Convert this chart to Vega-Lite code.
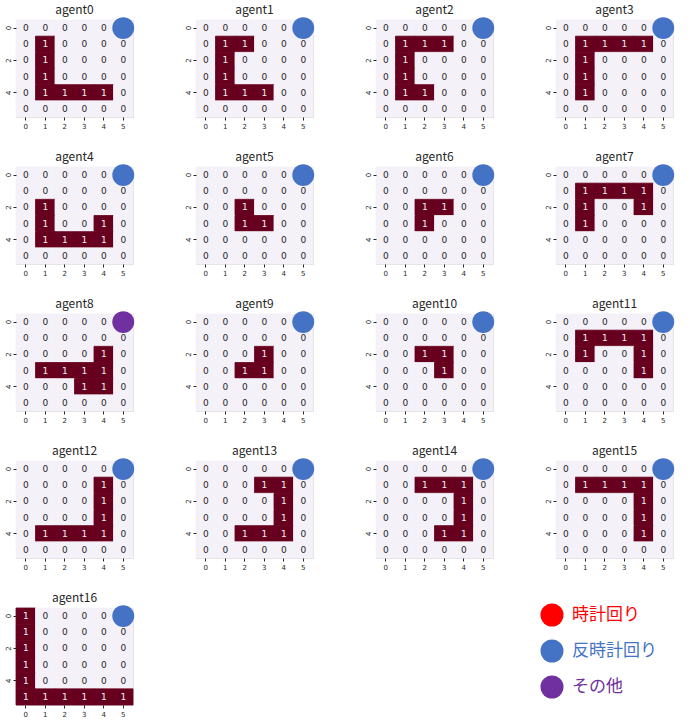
{
"$schema": "https://vega.github.io/schema/vega-lite/v6.json",
"background": "white",
"padding": {"left": 3, "top": 3, "right": 5, "bottom": 5},
"bounds": "flush",
"columns": 4,
"spacing": {"column": 63, "row": 50},
"resolve": {"axis": {"x": "independent", "y": "independent"}},
"datasets": {
"cells": [
{"a":0,"r":0,"c":0,"v":0},{"a":0,"r":0,"c":1,"v":0},{"a":0,"r":0,"c":2,"v":0},{"a":0,"r":0,"c":3,"v":0},{"a":0,"r":0,"c":4,"v":0},{"a":0,"r":0,"c":5,"v":0},
{"a":0,"r":1,"c":0,"v":0},{"a":0,"r":1,"c":1,"v":1},{"a":0,"r":1,"c":2,"v":0},{"a":0,"r":1,"c":3,"v":0},{"a":0,"r":1,"c":4,"v":0},{"a":0,"r":1,"c":5,"v":0},
{"a":0,"r":2,"c":0,"v":0},{"a":0,"r":2,"c":1,"v":1},{"a":0,"r":2,"c":2,"v":0},{"a":0,"r":2,"c":3,"v":0},{"a":0,"r":2,"c":4,"v":0},{"a":0,"r":2,"c":5,"v":0},
{"a":0,"r":3,"c":0,"v":0},{"a":0,"r":3,"c":1,"v":1},{"a":0,"r":3,"c":2,"v":0},{"a":0,"r":3,"c":3,"v":0},{"a":0,"r":3,"c":4,"v":0},{"a":0,"r":3,"c":5,"v":0},
{"a":0,"r":4,"c":0,"v":0},{"a":0,"r":4,"c":1,"v":1},{"a":0,"r":4,"c":2,"v":1},{"a":0,"r":4,"c":3,"v":1},{"a":0,"r":4,"c":4,"v":1},{"a":0,"r":4,"c":5,"v":0},
{"a":0,"r":5,"c":0,"v":0},{"a":0,"r":5,"c":1,"v":0},{"a":0,"r":5,"c":2,"v":0},{"a":0,"r":5,"c":3,"v":0},{"a":0,"r":5,"c":4,"v":0},{"a":0,"r":5,"c":5,"v":0},

{"a":1,"r":0,"c":0,"v":0},{"a":1,"r":0,"c":1,"v":0},{"a":1,"r":0,"c":2,"v":0},{"a":1,"r":0,"c":3,"v":0},{"a":1,"r":0,"c":4,"v":0},{"a":1,"r":0,"c":5,"v":0},
{"a":1,"r":1,"c":0,"v":0},{"a":1,"r":1,"c":1,"v":1},{"a":1,"r":1,"c":2,"v":1},{"a":1,"r":1,"c":3,"v":0},{"a":1,"r":1,"c":4,"v":0},{"a":1,"r":1,"c":5,"v":0},
{"a":1,"r":2,"c":0,"v":0},{"a":1,"r":2,"c":1,"v":1},{"a":1,"r":2,"c":2,"v":0},{"a":1,"r":2,"c":3,"v":0},{"a":1,"r":2,"c":4,"v":0},{"a":1,"r":2,"c":5,"v":0},
{"a":1,"r":3,"c":0,"v":0},{"a":1,"r":3,"c":1,"v":1},{"a":1,"r":3,"c":2,"v":0},{"a":1,"r":3,"c":3,"v":0},{"a":1,"r":3,"c":4,"v":0},{"a":1,"r":3,"c":5,"v":0},
{"a":1,"r":4,"c":0,"v":0},{"a":1,"r":4,"c":1,"v":1},{"a":1,"r":4,"c":2,"v":1},{"a":1,"r":4,"c":3,"v":1},{"a":1,"r":4,"c":4,"v":0},{"a":1,"r":4,"c":5,"v":0},
{"a":1,"r":5,"c":0,"v":0},{"a":1,"r":5,"c":1,"v":0},{"a":1,"r":5,"c":2,"v":0},{"a":1,"r":5,"c":3,"v":0},{"a":1,"r":5,"c":4,"v":0},{"a":1,"r":5,"c":5,"v":0},

{"a":2,"r":0,"c":0,"v":0},{"a":2,"r":0,"c":1,"v":0},{"a":2,"r":0,"c":2,"v":0},{"a":2,"r":0,"c":3,"v":0},{"a":2,"r":0,"c":4,"v":0},{"a":2,"r":0,"c":5,"v":0},
{"a":2,"r":1,"c":0,"v":0},{"a":2,"r":1,"c":1,"v":1},{"a":2,"r":1,"c":2,"v":1},{"a":2,"r":1,"c":3,"v":1},{"a":2,"r":1,"c":4,"v":0},{"a":2,"r":1,"c":5,"v":0},
{"a":2,"r":2,"c":0,"v":0},{"a":2,"r":2,"c":1,"v":1},{"a":2,"r":2,"c":2,"v":0},{"a":2,"r":2,"c":3,"v":0},{"a":2,"r":2,"c":4,"v":0},{"a":2,"r":2,"c":5,"v":0},
{"a":2,"r":3,"c":0,"v":0},{"a":2,"r":3,"c":1,"v":1},{"a":2,"r":3,"c":2,"v":0},{"a":2,"r":3,"c":3,"v":0},{"a":2,"r":3,"c":4,"v":0},{"a":2,"r":3,"c":5,"v":0},
{"a":2,"r":4,"c":0,"v":0},{"a":2,"r":4,"c":1,"v":1},{"a":2,"r":4,"c":2,"v":1},{"a":2,"r":4,"c":3,"v":0},{"a":2,"r":4,"c":4,"v":0},{"a":2,"r":4,"c":5,"v":0},
{"a":2,"r":5,"c":0,"v":0},{"a":2,"r":5,"c":1,"v":0},{"a":2,"r":5,"c":2,"v":0},{"a":2,"r":5,"c":3,"v":0},{"a":2,"r":5,"c":4,"v":0},{"a":2,"r":5,"c":5,"v":0},

{"a":3,"r":0,"c":0,"v":0},{"a":3,"r":0,"c":1,"v":0},{"a":3,"r":0,"c":2,"v":0},{"a":3,"r":0,"c":3,"v":0},{"a":3,"r":0,"c":4,"v":0},{"a":3,"r":0,"c":5,"v":0},
{"a":3,"r":1,"c":0,"v":0},{"a":3,"r":1,"c":1,"v":1},{"a":3,"r":1,"c":2,"v":1},{"a":3,"r":1,"c":3,"v":1},{"a":3,"r":1,"c":4,"v":1},{"a":3,"r":1,"c":5,"v":0},
{"a":3,"r":2,"c":0,"v":0},{"a":3,"r":2,"c":1,"v":1},{"a":3,"r":2,"c":2,"v":0},{"a":3,"r":2,"c":3,"v":0},{"a":3,"r":2,"c":4,"v":0},{"a":3,"r":2,"c":5,"v":0},
{"a":3,"r":3,"c":0,"v":0},{"a":3,"r":3,"c":1,"v":1},{"a":3,"r":3,"c":2,"v":0},{"a":3,"r":3,"c":3,"v":0},{"a":3,"r":3,"c":4,"v":0},{"a":3,"r":3,"c":5,"v":0},
{"a":3,"r":4,"c":0,"v":0},{"a":3,"r":4,"c":1,"v":1},{"a":3,"r":4,"c":2,"v":0},{"a":3,"r":4,"c":3,"v":0},{"a":3,"r":4,"c":4,"v":0},{"a":3,"r":4,"c":5,"v":0},
{"a":3,"r":5,"c":0,"v":0},{"a":3,"r":5,"c":1,"v":0},{"a":3,"r":5,"c":2,"v":0},{"a":3,"r":5,"c":3,"v":0},{"a":3,"r":5,"c":4,"v":0},{"a":3,"r":5,"c":5,"v":0},

{"a":4,"r":0,"c":0,"v":0},{"a":4,"r":0,"c":1,"v":0},{"a":4,"r":0,"c":2,"v":0},{"a":4,"r":0,"c":3,"v":0},{"a":4,"r":0,"c":4,"v":0},{"a":4,"r":0,"c":5,"v":0},
{"a":4,"r":1,"c":0,"v":0},{"a":4,"r":1,"c":1,"v":0},{"a":4,"r":1,"c":2,"v":0},{"a":4,"r":1,"c":3,"v":0},{"a":4,"r":1,"c":4,"v":0},{"a":4,"r":1,"c":5,"v":0},
{"a":4,"r":2,"c":0,"v":0},{"a":4,"r":2,"c":1,"v":1},{"a":4,"r":2,"c":2,"v":0},{"a":4,"r":2,"c":3,"v":0},{"a":4,"r":2,"c":4,"v":0},{"a":4,"r":2,"c":5,"v":0},
{"a":4,"r":3,"c":0,"v":0},{"a":4,"r":3,"c":1,"v":1},{"a":4,"r":3,"c":2,"v":0},{"a":4,"r":3,"c":3,"v":0},{"a":4,"r":3,"c":4,"v":1},{"a":4,"r":3,"c":5,"v":0},
{"a":4,"r":4,"c":0,"v":0},{"a":4,"r":4,"c":1,"v":1},{"a":4,"r":4,"c":2,"v":1},{"a":4,"r":4,"c":3,"v":1},{"a":4,"r":4,"c":4,"v":1},{"a":4,"r":4,"c":5,"v":0},
{"a":4,"r":5,"c":0,"v":0},{"a":4,"r":5,"c":1,"v":0},{"a":4,"r":5,"c":2,"v":0},{"a":4,"r":5,"c":3,"v":0},{"a":4,"r":5,"c":4,"v":0},{"a":4,"r":5,"c":5,"v":0},

{"a":5,"r":0,"c":0,"v":0},{"a":5,"r":0,"c":1,"v":0},{"a":5,"r":0,"c":2,"v":0},{"a":5,"r":0,"c":3,"v":0},{"a":5,"r":0,"c":4,"v":0},{"a":5,"r":0,"c":5,"v":0},
{"a":5,"r":1,"c":0,"v":0},{"a":5,"r":1,"c":1,"v":0},{"a":5,"r":1,"c":2,"v":0},{"a":5,"r":1,"c":3,"v":0},{"a":5,"r":1,"c":4,"v":0},{"a":5,"r":1,"c":5,"v":0},
{"a":5,"r":2,"c":0,"v":0},{"a":5,"r":2,"c":1,"v":0},{"a":5,"r":2,"c":2,"v":1},{"a":5,"r":2,"c":3,"v":0},{"a":5,"r":2,"c":4,"v":0},{"a":5,"r":2,"c":5,"v":0},
{"a":5,"r":3,"c":0,"v":0},{"a":5,"r":3,"c":1,"v":0},{"a":5,"r":3,"c":2,"v":1},{"a":5,"r":3,"c":3,"v":1},{"a":5,"r":3,"c":4,"v":0},{"a":5,"r":3,"c":5,"v":0},
{"a":5,"r":4,"c":0,"v":0},{"a":5,"r":4,"c":1,"v":0},{"a":5,"r":4,"c":2,"v":0},{"a":5,"r":4,"c":3,"v":0},{"a":5,"r":4,"c":4,"v":0},{"a":5,"r":4,"c":5,"v":0},
{"a":5,"r":5,"c":0,"v":0},{"a":5,"r":5,"c":1,"v":0},{"a":5,"r":5,"c":2,"v":0},{"a":5,"r":5,"c":3,"v":0},{"a":5,"r":5,"c":4,"v":0},{"a":5,"r":5,"c":5,"v":0},

{"a":6,"r":0,"c":0,"v":0},{"a":6,"r":0,"c":1,"v":0},{"a":6,"r":0,"c":2,"v":0},{"a":6,"r":0,"c":3,"v":0},{"a":6,"r":0,"c":4,"v":0},{"a":6,"r":0,"c":5,"v":0},
{"a":6,"r":1,"c":0,"v":0},{"a":6,"r":1,"c":1,"v":0},{"a":6,"r":1,"c":2,"v":0},{"a":6,"r":1,"c":3,"v":0},{"a":6,"r":1,"c":4,"v":0},{"a":6,"r":1,"c":5,"v":0},
{"a":6,"r":2,"c":0,"v":0},{"a":6,"r":2,"c":1,"v":0},{"a":6,"r":2,"c":2,"v":1},{"a":6,"r":2,"c":3,"v":1},{"a":6,"r":2,"c":4,"v":0},{"a":6,"r":2,"c":5,"v":0},
{"a":6,"r":3,"c":0,"v":0},{"a":6,"r":3,"c":1,"v":0},{"a":6,"r":3,"c":2,"v":1},{"a":6,"r":3,"c":3,"v":0},{"a":6,"r":3,"c":4,"v":0},{"a":6,"r":3,"c":5,"v":0},
{"a":6,"r":4,"c":0,"v":0},{"a":6,"r":4,"c":1,"v":0},{"a":6,"r":4,"c":2,"v":0},{"a":6,"r":4,"c":3,"v":0},{"a":6,"r":4,"c":4,"v":0},{"a":6,"r":4,"c":5,"v":0},
{"a":6,"r":5,"c":0,"v":0},{"a":6,"r":5,"c":1,"v":0},{"a":6,"r":5,"c":2,"v":0},{"a":6,"r":5,"c":3,"v":0},{"a":6,"r":5,"c":4,"v":0},{"a":6,"r":5,"c":5,"v":0},

{"a":7,"r":0,"c":0,"v":0},{"a":7,"r":0,"c":1,"v":0},{"a":7,"r":0,"c":2,"v":0},{"a":7,"r":0,"c":3,"v":0},{"a":7,"r":0,"c":4,"v":0},{"a":7,"r":0,"c":5,"v":0},
{"a":7,"r":1,"c":0,"v":0},{"a":7,"r":1,"c":1,"v":1},{"a":7,"r":1,"c":2,"v":1},{"a":7,"r":1,"c":3,"v":1},{"a":7,"r":1,"c":4,"v":1},{"a":7,"r":1,"c":5,"v":0},
{"a":7,"r":2,"c":0,"v":0},{"a":7,"r":2,"c":1,"v":1},{"a":7,"r":2,"c":2,"v":0},{"a":7,"r":2,"c":3,"v":0},{"a":7,"r":2,"c":4,"v":1},{"a":7,"r":2,"c":5,"v":0},
{"a":7,"r":3,"c":0,"v":0},{"a":7,"r":3,"c":1,"v":1},{"a":7,"r":3,"c":2,"v":0},{"a":7,"r":3,"c":3,"v":0},{"a":7,"r":3,"c":4,"v":0},{"a":7,"r":3,"c":5,"v":0},
{"a":7,"r":4,"c":0,"v":0},{"a":7,"r":4,"c":1,"v":0},{"a":7,"r":4,"c":2,"v":0},{"a":7,"r":4,"c":3,"v":0},{"a":7,"r":4,"c":4,"v":0},{"a":7,"r":4,"c":5,"v":0},
{"a":7,"r":5,"c":0,"v":0},{"a":7,"r":5,"c":1,"v":0},{"a":7,"r":5,"c":2,"v":0},{"a":7,"r":5,"c":3,"v":0},{"a":7,"r":5,"c":4,"v":0},{"a":7,"r":5,"c":5,"v":0},

{"a":8,"r":0,"c":0,"v":0},{"a":8,"r":0,"c":1,"v":0},{"a":8,"r":0,"c":2,"v":0},{"a":8,"r":0,"c":3,"v":0},{"a":8,"r":0,"c":4,"v":0},{"a":8,"r":0,"c":5,"v":0},
{"a":8,"r":1,"c":0,"v":0},{"a":8,"r":1,"c":1,"v":0},{"a":8,"r":1,"c":2,"v":0},{"a":8,"r":1,"c":3,"v":0},{"a":8,"r":1,"c":4,"v":0},{"a":8,"r":1,"c":5,"v":0},
{"a":8,"r":2,"c":0,"v":0},{"a":8,"r":2,"c":1,"v":0},{"a":8,"r":2,"c":2,"v":0},{"a":8,"r":2,"c":3,"v":0},{"a":8,"r":2,"c":4,"v":1},{"a":8,"r":2,"c":5,"v":0},
{"a":8,"r":3,"c":0,"v":0},{"a":8,"r":3,"c":1,"v":1},{"a":8,"r":3,"c":2,"v":1},{"a":8,"r":3,"c":3,"v":1},{"a":8,"r":3,"c":4,"v":1},{"a":8,"r":3,"c":5,"v":0},
{"a":8,"r":4,"c":0,"v":0},{"a":8,"r":4,"c":1,"v":0},{"a":8,"r":4,"c":2,"v":0},{"a":8,"r":4,"c":3,"v":1},{"a":8,"r":4,"c":4,"v":1},{"a":8,"r":4,"c":5,"v":0},
{"a":8,"r":5,"c":0,"v":0},{"a":8,"r":5,"c":1,"v":0},{"a":8,"r":5,"c":2,"v":0},{"a":8,"r":5,"c":3,"v":0},{"a":8,"r":5,"c":4,"v":0},{"a":8,"r":5,"c":5,"v":0},

{"a":9,"r":0,"c":0,"v":0},{"a":9,"r":0,"c":1,"v":0},{"a":9,"r":0,"c":2,"v":0},{"a":9,"r":0,"c":3,"v":0},{"a":9,"r":0,"c":4,"v":0},{"a":9,"r":0,"c":5,"v":0},
{"a":9,"r":1,"c":0,"v":0},{"a":9,"r":1,"c":1,"v":0},{"a":9,"r":1,"c":2,"v":0},{"a":9,"r":1,"c":3,"v":0},{"a":9,"r":1,"c":4,"v":0},{"a":9,"r":1,"c":5,"v":0},
{"a":9,"r":2,"c":0,"v":0},{"a":9,"r":2,"c":1,"v":0},{"a":9,"r":2,"c":2,"v":0},{"a":9,"r":2,"c":3,"v":1},{"a":9,"r":2,"c":4,"v":0},{"a":9,"r":2,"c":5,"v":0},
{"a":9,"r":3,"c":0,"v":0},{"a":9,"r":3,"c":1,"v":0},{"a":9,"r":3,"c":2,"v":1},{"a":9,"r":3,"c":3,"v":1},{"a":9,"r":3,"c":4,"v":0},{"a":9,"r":3,"c":5,"v":0},
{"a":9,"r":4,"c":0,"v":0},{"a":9,"r":4,"c":1,"v":0},{"a":9,"r":4,"c":2,"v":0},{"a":9,"r":4,"c":3,"v":0},{"a":9,"r":4,"c":4,"v":0},{"a":9,"r":4,"c":5,"v":0},
{"a":9,"r":5,"c":0,"v":0},{"a":9,"r":5,"c":1,"v":0},{"a":9,"r":5,"c":2,"v":0},{"a":9,"r":5,"c":3,"v":0},{"a":9,"r":5,"c":4,"v":0},{"a":9,"r":5,"c":5,"v":0},

{"a":10,"r":0,"c":0,"v":0},{"a":10,"r":0,"c":1,"v":0},{"a":10,"r":0,"c":2,"v":0},{"a":10,"r":0,"c":3,"v":0},{"a":10,"r":0,"c":4,"v":0},{"a":10,"r":0,"c":5,"v":0},
{"a":10,"r":1,"c":0,"v":0},{"a":10,"r":1,"c":1,"v":0},{"a":10,"r":1,"c":2,"v":0},{"a":10,"r":1,"c":3,"v":0},{"a":10,"r":1,"c":4,"v":0},{"a":10,"r":1,"c":5,"v":0},
{"a":10,"r":2,"c":0,"v":0},{"a":10,"r":2,"c":1,"v":0},{"a":10,"r":2,"c":2,"v":1},{"a":10,"r":2,"c":3,"v":1},{"a":10,"r":2,"c":4,"v":0},{"a":10,"r":2,"c":5,"v":0},
{"a":10,"r":3,"c":0,"v":0},{"a":10,"r":3,"c":1,"v":0},{"a":10,"r":3,"c":2,"v":0},{"a":10,"r":3,"c":3,"v":1},{"a":10,"r":3,"c":4,"v":0},{"a":10,"r":3,"c":5,"v":0},
{"a":10,"r":4,"c":0,"v":0},{"a":10,"r":4,"c":1,"v":0},{"a":10,"r":4,"c":2,"v":0},{"a":10,"r":4,"c":3,"v":0},{"a":10,"r":4,"c":4,"v":0},{"a":10,"r":4,"c":5,"v":0},
{"a":10,"r":5,"c":0,"v":0},{"a":10,"r":5,"c":1,"v":0},{"a":10,"r":5,"c":2,"v":0},{"a":10,"r":5,"c":3,"v":0},{"a":10,"r":5,"c":4,"v":0},{"a":10,"r":5,"c":5,"v":0},

{"a":11,"r":0,"c":0,"v":0},{"a":11,"r":0,"c":1,"v":0},{"a":11,"r":0,"c":2,"v":0},{"a":11,"r":0,"c":3,"v":0},{"a":11,"r":0,"c":4,"v":0},{"a":11,"r":0,"c":5,"v":0},
{"a":11,"r":1,"c":0,"v":0},{"a":11,"r":1,"c":1,"v":1},{"a":11,"r":1,"c":2,"v":1},{"a":11,"r":1,"c":3,"v":1},{"a":11,"r":1,"c":4,"v":1},{"a":11,"r":1,"c":5,"v":0},
{"a":11,"r":2,"c":0,"v":0},{"a":11,"r":2,"c":1,"v":1},{"a":11,"r":2,"c":2,"v":0},{"a":11,"r":2,"c":3,"v":0},{"a":11,"r":2,"c":4,"v":1},{"a":11,"r":2,"c":5,"v":0},
{"a":11,"r":3,"c":0,"v":0},{"a":11,"r":3,"c":1,"v":0},{"a":11,"r":3,"c":2,"v":0},{"a":11,"r":3,"c":3,"v":0},{"a":11,"r":3,"c":4,"v":1},{"a":11,"r":3,"c":5,"v":0},
{"a":11,"r":4,"c":0,"v":0},{"a":11,"r":4,"c":1,"v":0},{"a":11,"r":4,"c":2,"v":0},{"a":11,"r":4,"c":3,"v":0},{"a":11,"r":4,"c":4,"v":0},{"a":11,"r":4,"c":5,"v":0},
{"a":11,"r":5,"c":0,"v":0},{"a":11,"r":5,"c":1,"v":0},{"a":11,"r":5,"c":2,"v":0},{"a":11,"r":5,"c":3,"v":0},{"a":11,"r":5,"c":4,"v":0},{"a":11,"r":5,"c":5,"v":0},

{"a":12,"r":0,"c":0,"v":0},{"a":12,"r":0,"c":1,"v":0},{"a":12,"r":0,"c":2,"v":0},{"a":12,"r":0,"c":3,"v":0},{"a":12,"r":0,"c":4,"v":0},{"a":12,"r":0,"c":5,"v":0},
{"a":12,"r":1,"c":0,"v":0},{"a":12,"r":1,"c":1,"v":0},{"a":12,"r":1,"c":2,"v":0},{"a":12,"r":1,"c":3,"v":0},{"a":12,"r":1,"c":4,"v":1},{"a":12,"r":1,"c":5,"v":0},
{"a":12,"r":2,"c":0,"v":0},{"a":12,"r":2,"c":1,"v":0},{"a":12,"r":2,"c":2,"v":0},{"a":12,"r":2,"c":3,"v":0},{"a":12,"r":2,"c":4,"v":1},{"a":12,"r":2,"c":5,"v":0},
{"a":12,"r":3,"c":0,"v":0},{"a":12,"r":3,"c":1,"v":0},{"a":12,"r":3,"c":2,"v":0},{"a":12,"r":3,"c":3,"v":0},{"a":12,"r":3,"c":4,"v":1},{"a":12,"r":3,"c":5,"v":0},
{"a":12,"r":4,"c":0,"v":0},{"a":12,"r":4,"c":1,"v":1},{"a":12,"r":4,"c":2,"v":1},{"a":12,"r":4,"c":3,"v":1},{"a":12,"r":4,"c":4,"v":1},{"a":12,"r":4,"c":5,"v":0},
{"a":12,"r":5,"c":0,"v":0},{"a":12,"r":5,"c":1,"v":0},{"a":12,"r":5,"c":2,"v":0},{"a":12,"r":5,"c":3,"v":0},{"a":12,"r":5,"c":4,"v":0},{"a":12,"r":5,"c":5,"v":0},

{"a":13,"r":0,"c":0,"v":0},{"a":13,"r":0,"c":1,"v":0},{"a":13,"r":0,"c":2,"v":0},{"a":13,"r":0,"c":3,"v":0},{"a":13,"r":0,"c":4,"v":0},{"a":13,"r":0,"c":5,"v":0},
{"a":13,"r":1,"c":0,"v":0},{"a":13,"r":1,"c":1,"v":0},{"a":13,"r":1,"c":2,"v":0},{"a":13,"r":1,"c":3,"v":1},{"a":13,"r":1,"c":4,"v":1},{"a":13,"r":1,"c":5,"v":0},
{"a":13,"r":2,"c":0,"v":0},{"a":13,"r":2,"c":1,"v":0},{"a":13,"r":2,"c":2,"v":0},{"a":13,"r":2,"c":3,"v":0},{"a":13,"r":2,"c":4,"v":1},{"a":13,"r":2,"c":5,"v":0},
{"a":13,"r":3,"c":0,"v":0},{"a":13,"r":3,"c":1,"v":0},{"a":13,"r":3,"c":2,"v":0},{"a":13,"r":3,"c":3,"v":0},{"a":13,"r":3,"c":4,"v":1},{"a":13,"r":3,"c":5,"v":0},
{"a":13,"r":4,"c":0,"v":0},{"a":13,"r":4,"c":1,"v":0},{"a":13,"r":4,"c":2,"v":1},{"a":13,"r":4,"c":3,"v":1},{"a":13,"r":4,"c":4,"v":1},{"a":13,"r":4,"c":5,"v":0},
{"a":13,"r":5,"c":0,"v":0},{"a":13,"r":5,"c":1,"v":0},{"a":13,"r":5,"c":2,"v":0},{"a":13,"r":5,"c":3,"v":0},{"a":13,"r":5,"c":4,"v":0},{"a":13,"r":5,"c":5,"v":0},

{"a":14,"r":0,"c":0,"v":0},{"a":14,"r":0,"c":1,"v":0},{"a":14,"r":0,"c":2,"v":0},{"a":14,"r":0,"c":3,"v":0},{"a":14,"r":0,"c":4,"v":0},{"a":14,"r":0,"c":5,"v":0},
{"a":14,"r":1,"c":0,"v":0},{"a":14,"r":1,"c":1,"v":0},{"a":14,"r":1,"c":2,"v":1},{"a":14,"r":1,"c":3,"v":1},{"a":14,"r":1,"c":4,"v":1},{"a":14,"r":1,"c":5,"v":0},
{"a":14,"r":2,"c":0,"v":0},{"a":14,"r":2,"c":1,"v":0},{"a":14,"r":2,"c":2,"v":0},{"a":14,"r":2,"c":3,"v":0},{"a":14,"r":2,"c":4,"v":1},{"a":14,"r":2,"c":5,"v":0},
{"a":14,"r":3,"c":0,"v":0},{"a":14,"r":3,"c":1,"v":0},{"a":14,"r":3,"c":2,"v":0},{"a":14,"r":3,"c":3,"v":0},{"a":14,"r":3,"c":4,"v":1},{"a":14,"r":3,"c":5,"v":0},
{"a":14,"r":4,"c":0,"v":0},{"a":14,"r":4,"c":1,"v":0},{"a":14,"r":4,"c":2,"v":0},{"a":14,"r":4,"c":3,"v":1},{"a":14,"r":4,"c":4,"v":1},{"a":14,"r":4,"c":5,"v":0},
{"a":14,"r":5,"c":0,"v":0},{"a":14,"r":5,"c":1,"v":0},{"a":14,"r":5,"c":2,"v":0},{"a":14,"r":5,"c":3,"v":0},{"a":14,"r":5,"c":4,"v":0},{"a":14,"r":5,"c":5,"v":0},

{"a":15,"r":0,"c":0,"v":0},{"a":15,"r":0,"c":1,"v":0},{"a":15,"r":0,"c":2,"v":0},{"a":15,"r":0,"c":3,"v":0},{"a":15,"r":0,"c":4,"v":0},{"a":15,"r":0,"c":5,"v":0},
{"a":15,"r":1,"c":0,"v":0},{"a":15,"r":1,"c":1,"v":1},{"a":15,"r":1,"c":2,"v":1},{"a":15,"r":1,"c":3,"v":1},{"a":15,"r":1,"c":4,"v":1},{"a":15,"r":1,"c":5,"v":0},
{"a":15,"r":2,"c":0,"v":0},{"a":15,"r":2,"c":1,"v":0},{"a":15,"r":2,"c":2,"v":0},{"a":15,"r":2,"c":3,"v":0},{"a":15,"r":2,"c":4,"v":1},{"a":15,"r":2,"c":5,"v":0},
{"a":15,"r":3,"c":0,"v":0},{"a":15,"r":3,"c":1,"v":0},{"a":15,"r":3,"c":2,"v":0},{"a":15,"r":3,"c":3,"v":0},{"a":15,"r":3,"c":4,"v":1},{"a":15,"r":3,"c":5,"v":0},
{"a":15,"r":4,"c":0,"v":0},{"a":15,"r":4,"c":1,"v":0},{"a":15,"r":4,"c":2,"v":0},{"a":15,"r":4,"c":3,"v":0},{"a":15,"r":4,"c":4,"v":1},{"a":15,"r":4,"c":5,"v":0},
{"a":15,"r":5,"c":0,"v":0},{"a":15,"r":5,"c":1,"v":0},{"a":15,"r":5,"c":2,"v":0},{"a":15,"r":5,"c":3,"v":0},{"a":15,"r":5,"c":4,"v":0},{"a":15,"r":5,"c":5,"v":0},

{"a":16,"r":0,"c":0,"v":1},{"a":16,"r":0,"c":1,"v":0},{"a":16,"r":0,"c":2,"v":0},{"a":16,"r":0,"c":3,"v":0},{"a":16,"r":0,"c":4,"v":0},{"a":16,"r":0,"c":5,"v":0},
{"a":16,"r":1,"c":0,"v":1},{"a":16,"r":1,"c":1,"v":0},{"a":16,"r":1,"c":2,"v":0},{"a":16,"r":1,"c":3,"v":0},{"a":16,"r":1,"c":4,"v":0},{"a":16,"r":1,"c":5,"v":0},
{"a":16,"r":2,"c":0,"v":1},{"a":16,"r":2,"c":1,"v":0},{"a":16,"r":2,"c":2,"v":0},{"a":16,"r":2,"c":3,"v":0},{"a":16,"r":2,"c":4,"v":0},{"a":16,"r":2,"c":5,"v":0},
{"a":16,"r":3,"c":0,"v":1},{"a":16,"r":3,"c":1,"v":0},{"a":16,"r":3,"c":2,"v":0},{"a":16,"r":3,"c":3,"v":0},{"a":16,"r":3,"c":4,"v":0},{"a":16,"r":3,"c":5,"v":0},
{"a":16,"r":4,"c":0,"v":1},{"a":16,"r":4,"c":1,"v":0},{"a":16,"r":4,"c":2,"v":0},{"a":16,"r":4,"c":3,"v":0},{"a":16,"r":4,"c":4,"v":0},{"a":16,"r":4,"c":5,"v":0},
{"a":16,"r":5,"c":0,"v":1},{"a":16,"r":5,"c":1,"v":1},{"a":16,"r":5,"c":2,"v":1},{"a":16,"r":5,"c":3,"v":1},{"a":16,"r":5,"c":4,"v":1},{"a":16,"r":5,"c":5,"v":1},

{"a":0,"dir":"反時計回り"},{"a":1,"dir":"反時計回り"},{"a":2,"dir":"反時計回り"},{"a":3,"dir":"反時計回り"},
{"a":4,"dir":"反時計回り"},{"a":5,"dir":"反時計回り"},{"a":6,"dir":"反時計回り"},{"a":7,"dir":"反時計回り"},
{"a":8,"dir":"その他"},{"a":9,"dir":"反時計回り"},{"a":10,"dir":"反時計回り"},{"a":11,"dir":"反時計回り"},
{"a":12,"dir":"反時計回り"},{"a":13,"dir":"反時計回り"},{"a":14,"dir":"反時計回り"},{"a":15,"dir":"反時計回り"},
{"a":16,"dir":"反時計回り"}
]
},
"data": {"name": "cells"},
"facet": {
  "field": "a", "type": "ordinal",
  "header": {"title": null, "labelExpr": "'agent' + datum.value", "labelFont": "Noto Sans CJK JP", "labelFontSize": 12, "labelColor": "#262626", "labelPadding": 0}
},
"spec": {
  "width": 117,
  "height": 97,
  "layer": [
    {
      "transform": [{"filter": "isValid(datum.v)"}],
      "mark": {"type": "rect", "strokeWidth": 0.8},
      "encoding": {
        "x": {"field": "c", "type": "ordinal", "title": null,
              "axis": {"labelAngle": 0, "domain": false, "tickSize": 3, "tickColor": "#262626", "labelFontSize": 7, "labelFont": "DejaVu Sans", "labelColor": "#262626", "labelPadding": 2}},
        "y": {"field": "r", "type": "ordinal", "title": null,
              "axis": {"values": [0, 2, 4], "labelAngle": 270, "labelAlign": "center", "labelBaseline": "bottom", "domain": false, "tickSize": 3, "tickColor": "#262626", "labelFontSize": 7, "labelFont": "DejaVu Sans", "labelColor": "#262626", "labelPadding": 2}},
        "color": {"field": "v", "type": "quantitative", "scale": {"domain": [0, 1], "range": ["#f5f1f8", "#67001f"]}, "legend": null},
        "stroke": {"field": "v", "type": "quantitative", "scale": {"domain": [0, 1], "range": ["#f5f1f8", "#67001f"]}, "legend": null}
      }
    },
    {
      "transform": [{"filter": "isValid(datum.v)"}],
      "mark": {"type": "text", "fontSize": 9, "font": "DejaVu Sans"},
      "encoding": {
        "x": {"field": "c", "type": "ordinal"},
        "y": {"field": "r", "type": "ordinal"},
        "text": {"field": "v", "type": "quantitative"},
        "color": {"condition": {"test": "datum.v == 1", "value": "#f2f2f2"}, "value": "#262626"}
      }
    },
    {
      "transform": [{"filter": "isValid(datum.dir)"}],
      "mark": {"type": "point", "shape": "circle", "filled": true, "size": 480, "opacity": 1, "strokeWidth": 0},
      "encoding": {
        "x": {"datum": 5, "type": "ordinal"},
        "y": {"datum": 0, "type": "ordinal"},
        "fill": {"field": "dir", "type": "nominal",
                 "scale": {"domain": ["時計回り", "反時計回り", "その他"], "range": ["#ff0000", "#4472c4", "#7030a0"]},
                 "legend": {"orient": "none", "legendX": 524, "legendY": 583, "title": null, "symbolType": "circle", "symbolSize": 530, "symbolStrokeWidth": 0, "symbolOpacity": 1, "labelFontSize": 17, "labelFont": "Noto Sans CJK JP", "labelOffset": 8, "rowPadding": 12, "labelLimit": 200,
                            "labelColor": {"expr": "datum.value == '時計回り' ? '#ff0000' : (datum.value == '反時計回り' ? '#4472c4' : '#7030a0')"}}}
      }
    }
  ]
}
}
